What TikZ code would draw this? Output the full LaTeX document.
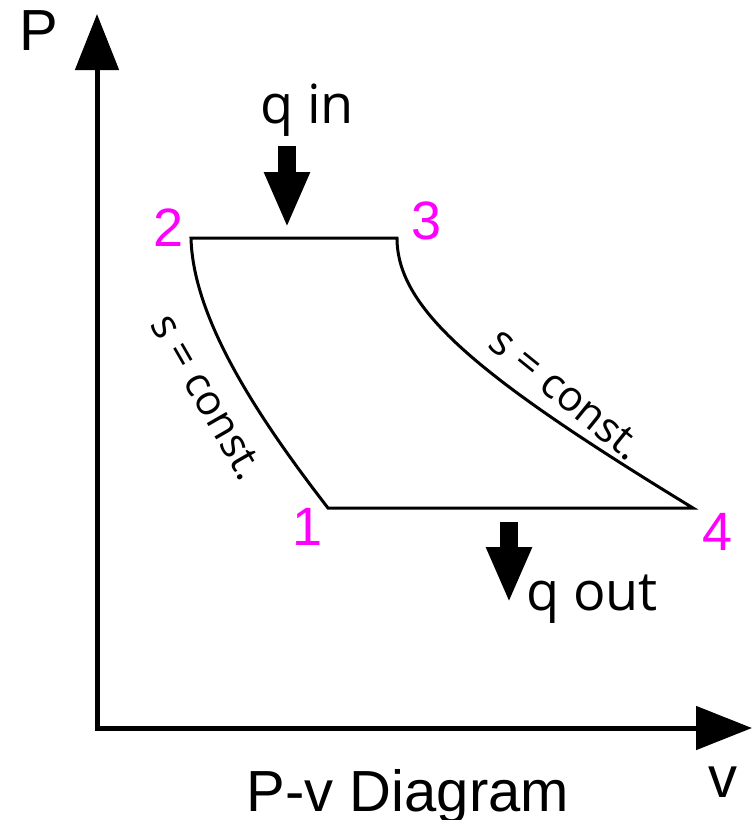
\documentclass[tikz,border=0pt]{standalone}
\usepackage{fontspec}
\setmainfont{Liberation Sans}
\newfontfamily\osans{Open Sans}
\usetikzlibrary{arrows.meta}
\definecolor{mag}{HTML}{FF00FF}
\tikzset{
  axis/.style={line width=5pt,-{Triangle[length=56pt,width=43pt]}},
  cyc/.style={line width=3pt,line join=miter},
  heat/.style={line width=18pt,-{Triangle[length=56pt,width=42pt]}},
  axlab/.style={font=\fontsize{58}{60}\selectfont,inner sep=0pt,anchor=base},
  ptlab/.style={font=\fontsize{54}{56}\selectfont,text=mag,inner sep=0pt},
  qlab/.style={font=\osans\fontsize{54}{56}\selectfont,inner sep=0pt,anchor=base},
  slab/.style={font=\osans\fontsize{42}{44}\selectfont,inner sep=0pt},
}
\begin{document}
\begin{tikzpicture}[x=1pt,y=-1pt]
\path[use as bounding box] (0,0) rectangle (752,820);
% axes
\coordinate (O) at (97,728);
\coordinate (ytip) at (97,14);
\coordinate (xtip) at (752,728);
\draw[axis] (O) -- (ytip);
\draw[axis] ([xshift=-2.5pt]O) -- (xtip);
\node[axlab] (Plab) at (39,50) {P};
\node[axlab] (vlab) at (723,797) {v};
\node[axlab] (title) at (408,811) {P-v Diagram};
% cycle
\coordinate (p1) at (328,508);
\coordinate (p2) at (191,238);
\coordinate (p3) at (397,238);
\coordinate (p4) at (693,508);
\draw[cyc] (p1) .. controls (260,420) and (193,320) .. (p2) -- (p3)
  .. controls (397,310) and (480,378) .. (p4) -- cycle;
\node[ptlab] (n1) at (308,527) {1};
\node[ptlab] (n2) at (169,228) {2};
\node[ptlab] (n3) at (427,221) {3};
\node[ptlab] (n4) at (718,532) {4};
% s = const labels
\node[slab,rotate=-60] (sL) at (207,397) {s = const.};
\node[slab,rotate=-39] (sR) at (566,394) {s = const.};
% heat arrows
\coordinate (qinA) at (287,146);
\coordinate (qinB) at (287,228);
\draw[heat] (qinA) -- (qinB);
\node[qlab] (qin) at (307,123) {q in};
\coordinate (qoutA) at (509,522);
\coordinate (qoutB) at (509,603);
\draw[heat] (qoutA) -- (qoutB);
\node[qlab] (qout) at (592,610) {q out};
\end{tikzpicture}
\end{document}
